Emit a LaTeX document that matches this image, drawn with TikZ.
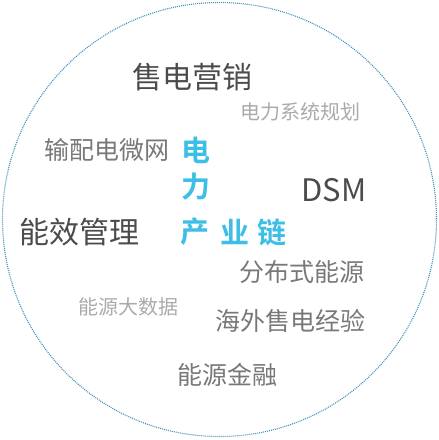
\documentclass[tikz,border=0pt]{standalone}
\usepackage{fontspec}
\setmainfont{Noto Sans CJK SC}
\newfontfamily\cjkbold{Noto Sans CJK SC Bold}
\definecolor{ringc}{RGB}{65,145,185}
\definecolor{cyanc}{RGB}{60,190,230}
\definecolor{darkc}{RGB}{75,75,75}
\definecolor{midc}{RGB}{120,120,120}
\definecolor{lightc}{RGB}{170,170,170}
\begin{document}
\begin{tikzpicture}[x=1pt,y=-1pt,
  lbl/.style={inner sep=0pt,anchor=west},
  chain/.style={inner sep=0pt,anchor=west,text=cyanc,font=\cjkbold\fontsize{29}{29}\selectfont}]
\useasboundingbox (0,0) rectangle (439,440);
\draw[ringc,line width=1.1pt,dash pattern=on 1pt off 1pt] (219.5,219.5) circle[radius=217];
\node[lbl,text=darkc,font=\fontsize{30}{30}\selectfont] (t1) at (132,77) {售电营销};
\node[lbl,text=lightc,font=\fontsize{20}{20}\selectfont] (t2) at (240,112) {电力系统规划};
\node[lbl,text=midc,font=\fontsize{25}{25}\selectfont] (t3) at (44,150) {输配电微网};
\node[lbl,text=darkc,font=\fontsize{30}{30}\selectfont] (t4) at (19,232) {能效管理};
\node[lbl,text=darkc,font=\fontsize{31}{31}\selectfont] (t5) at (301,190) {DSM};
\node[lbl,text=midc,font=\fontsize{25}{25}\selectfont] (t6) at (239,272) {分布式能源};
\node[lbl,text=lightc,font=\fontsize{20}{20}\selectfont] (t7) at (78,307) {能源大数据};
\node[lbl,text=midc,font=\fontsize{25}{25}\selectfont] (t8) at (215,321) {海外售电经验};
\node[lbl,text=midc,font=\fontsize{25}{25}\selectfont] (t9) at (177,375) {能源金融};
\node[chain] (c1) at (181,150) {电};
\node[chain] (c2) at (181,187) {力};
\node[chain] (c3) at (180,232) {产};
\node[chain] (c4) at (220,232) {业};
\node[chain] (c5) at (257,232) {链};
\end{tikzpicture}
\end{document}
